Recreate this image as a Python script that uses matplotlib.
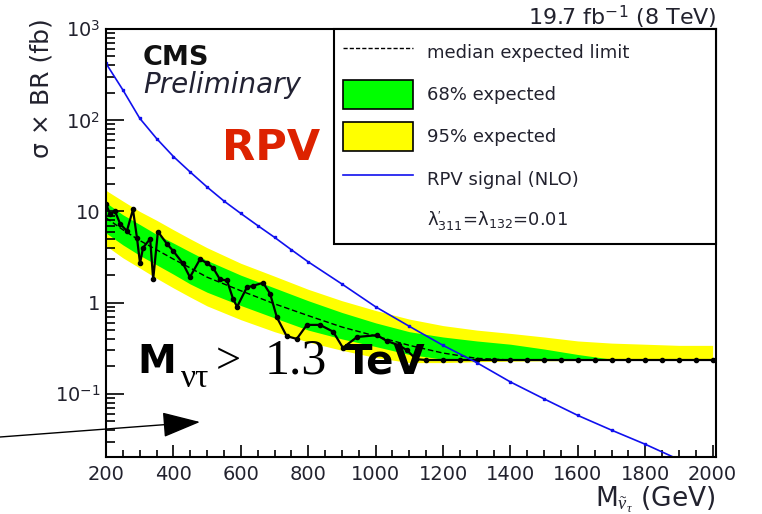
import numpy as np
import matplotlib.pyplot as plt
from matplotlib.lines import Line2D
from matplotlib.patches import Patch

plt.rcParams['mathtext.fontset'] = 'custom'
plt.rcParams['mathtext.rm'] = 'Liberation Serif'
plt.rcParams['mathtext.it'] = 'Liberation Serif:italic'
plt.rcParams['mathtext.bf'] = 'DejaVu Sans:bold'
plt.rcParams['mathtext.sf'] = 'DejaVu Sans'

## data (mass in GeV, sigma x BR in fb)

band_mass = [200, 250, 300, 350, 400, 450, 500, 600, 700, 800, 900, 1000,
             1100, 1200, 1300, 1400, 1500, 1600, 1700, 1800, 1900, 2000]
yellow_hi = [17, 13, 10, 8.0, 6.3, 5.0, 4.0, 2.7, 1.95, 1.4, 1.05, 0.82,
             0.66, 0.56, 0.50, 0.46, 0.42, 0.38, 0.36, 0.35, 0.34, 0.34]
green_hi = [12.5, 9.2, 7.2, 5.6, 4.5, 3.6, 2.9, 2.0, 1.45, 1.05, 0.78, 0.60,
            0.48, 0.42, 0.38, 0.35, 0.31, 0.27, 0.24, 0.235, 0.235, 0.235]
median = [8.5, 6.3, 4.8, 3.8, 3.0, 2.4, 1.9, 1.35, 0.97, 0.72, 0.54, 0.43,
          0.34, 0.28, 0.245, 0.235, 0.235, 0.235, 0.235, 0.235, 0.235, 0.235]
green_lo = [5.8, 4.3, 3.3, 2.6, 2.05, 1.6, 1.3, 0.93, 0.68, 0.50, 0.40, 0.33,
            0.27, 0.24, 0.235, 0.235, 0.235, 0.235, 0.235, 0.235, 0.235, 0.235]
yellow_lo = [4.2, 3.1, 2.4, 1.85, 1.45, 1.15, 0.92, 0.65, 0.48, 0.37, 0.30, 0.25,
             0.22, 0.22, 0.225, 0.228, 0.23, 0.232, 0.235, 0.235, 0.235, 0.235]

obs_mass = [200, 212, 227, 242, 262, 280, 292, 301, 310, 331, 340, 354, 381,
            399, 428, 449, 479, 500, 518, 538, 559, 577, 589, 618, 636, 666,
            687, 707, 736, 766, 796, 835, 874, 903, 945, 1004, 1033, 1070,
            1093, 1120, 1150, 1200, 1250, 1300, 1350, 1400, 1450, 1500, 1550,
            1600, 1650, 1700, 1750, 1800, 1850, 1900, 1950, 2000, 2010]
obs_limit = [12, 9.4, 10, 7.3, 6.1, 10.5, 5.1, 2.7, 4.0, 5.0, 1.8, 6.0, 4.4,
             3.7, 2.7, 1.9, 3.0, 2.7, 2.4, 1.8, 1.75, 1.1, 0.9, 1.47, 1.53, 1.65,
             1.25, 0.69, 0.43, 0.40, 0.57, 0.57, 0.48, 0.32, 0.42, 0.44, 0.38, 0.34,
             0.30, 0.24, 0.235, 0.235, 0.235, 0.235, 0.235, 0.235, 0.235, 0.235, 0.235,
             0.235, 0.235, 0.235, 0.235, 0.235, 0.235, 0.235, 0.235, 0.235, 0.235]

sig_mass = [200, 250, 300, 350, 400, 450, 500, 550, 600, 650, 700, 750, 800,
            900, 1000, 1100, 1200, 1300, 1400, 1500, 1600, 1700, 1800, 1900, 2000]
sig_xsec = [420, 215, 105, 63, 40, 27, 18.5, 13, 9.5, 7.0, 5.2, 3.8, 2.8,
            1.6, 0.9, 0.55, 0.34, 0.22, 0.135, 0.088, 0.058, 0.040, 0.028, 0.019, 0.013]

xticks = [200, 400, 600, 800, 1000, 1200, 1400, 1600, 1800, 2000]
yticks = [0.1, 1, 10, 100, 1000]
ytick_labels = [r'10$^{\mathsf{-1}}$', '1', '10', r'10$^{\mathsf{2}}$', r'10$^{\mathsf{3}}$']

txt = '#22222e'

fig = plt.figure(figsize=(7.62, 5.14), dpi=100)
ax = fig.add_axes([106/762, 57/514, 610/762, 428/514])

ax.fill_between(band_mass, yellow_lo, yellow_hi, color='#ffff00', lw=0)
ax.fill_between(band_mass, green_lo, green_hi, color='#00ff00', lw=0)
ax.plot(band_mass, median, color='k', ls=(0, (4, 2)), lw=1)
ax.plot(obs_mass, obs_limit, color='k', lw=1.6, marker='o', ms=3)
ax.plot(sig_mass, sig_xsec, color='#1010ee', lw=1.2, marker='s', ms=1.8)

ax.set_yscale('log')
ax.set_xlim(200, 2010)
ax.set_ylim(0.0203, 1000)
ax.set_xticks(xticks)
ax.set_xticks(np.arange(250, 2001, 50), minor=True)
ax.set_yticks(yticks)
ax.set_yticklabels(ytick_labels)
ax.tick_params(which='both', direction='in', top=False, right=False,
               labelsize=14, labelcolor=txt, width=1.2)
ax.tick_params(axis='x', which='major', length=9, pad=6)
ax.tick_params(axis='x', which='minor', length=5)
ax.tick_params(axis='y', which='major', length=13, pad=4)
ax.tick_params(axis='y', which='minor', length=6.5)
for s in ax.spines.values():
    s.set_linewidth(1.5)

# legend
handles = [Line2D([], [], color='k', ls=(0, (3, 1.5)), lw=1),
           Patch(facecolor='#00ff00', edgecolor='k', lw=1.2),
           Patch(facecolor='#ffff00', edgecolor='k', lw=1.2),
           Line2D([], [], color='#1010ee', lw=1.2),
           Line2D([], [], ls='none')]
labels = ['median expected limit', '68% expected', '95% expected',
          'RPV signal (NLO)',
          r'λ$^{\prime}_{\mathsf{311}}$=λ$_{\mathsf{132}}$=0.01']
leg = ax.legend(handles, labels, loc='upper left',
                bbox_to_anchor=(0.3738, 0, 0.6262, 1.0), mode='expand',
                fontsize=13, handlelength=3.9, handleheight=2.1,
                handletextpad=0.75, labelspacing=0.73, borderpad=0.48,
                borderaxespad=0, fancybox=False, framealpha=1,
                edgecolor='k', labelcolor=txt)
leg.get_frame().set_linewidth(1.5)

# texts
fig.text(143/762, 1-65/514, 'CMS', fontsize=19.5, fontweight='bold', color='#111111')
fig.text(143/762, 1-93/514, 'Preliminary', fontsize=20, style='italic', color='#222233')
fig.text(222/762, 1-160/514, 'RPV', fontsize=31, fontweight='bold', color='#dd2200')
fig.text(717/762, 1-24/514, r'19.7 fb$^{\mathsf{-1}}$ (8 TeV)', fontsize=16,
         ha='right', va='baseline', color=txt)
fig.text(42/762, 1-88/514, 'σ × BR (fb)', fontsize=18, rotation=90,
         ha='center', va='center', color=txt)
fig.text(715/762, 1-507/514, r'M$_{\tilde{\nu}_{\tau}}$ (GeV)', fontsize=19,
         ha='right', va='baseline', color=txt)

# limit statement, put together from pieces
fig.text(137/762, 1-373/514, 'M', fontsize=28, fontweight='bold', color='k')
fig.text(181/762, 1-387/514, 'ντ', fontsize=24, family='Liberation Serif', color='k')
fig.text(216/762, 1-373/514, '>', fontsize=32, family='Liberation Serif', color='k')
fig.text(265/762, 1-373/514, '1.3', fontsize=36, family='Liberation Serif', color='k')
fig.text(345/762, 1-373/514, 'TeV', fontsize=29, fontweight='bold', color='k')

ax.annotate('', xy=(200, 514-422), xytext=(0, 514-437),
            xycoords='figure pixels', textcoords='figure pixels',
            annotation_clip=False,
            arrowprops=dict(arrowstyle='-|>,head_length=2.4,head_width=0.8',
                            mutation_scale=10, color='k', lw=1,
                            shrinkA=0, shrinkB=0))

fig.savefig('out.png', dpi=100)
